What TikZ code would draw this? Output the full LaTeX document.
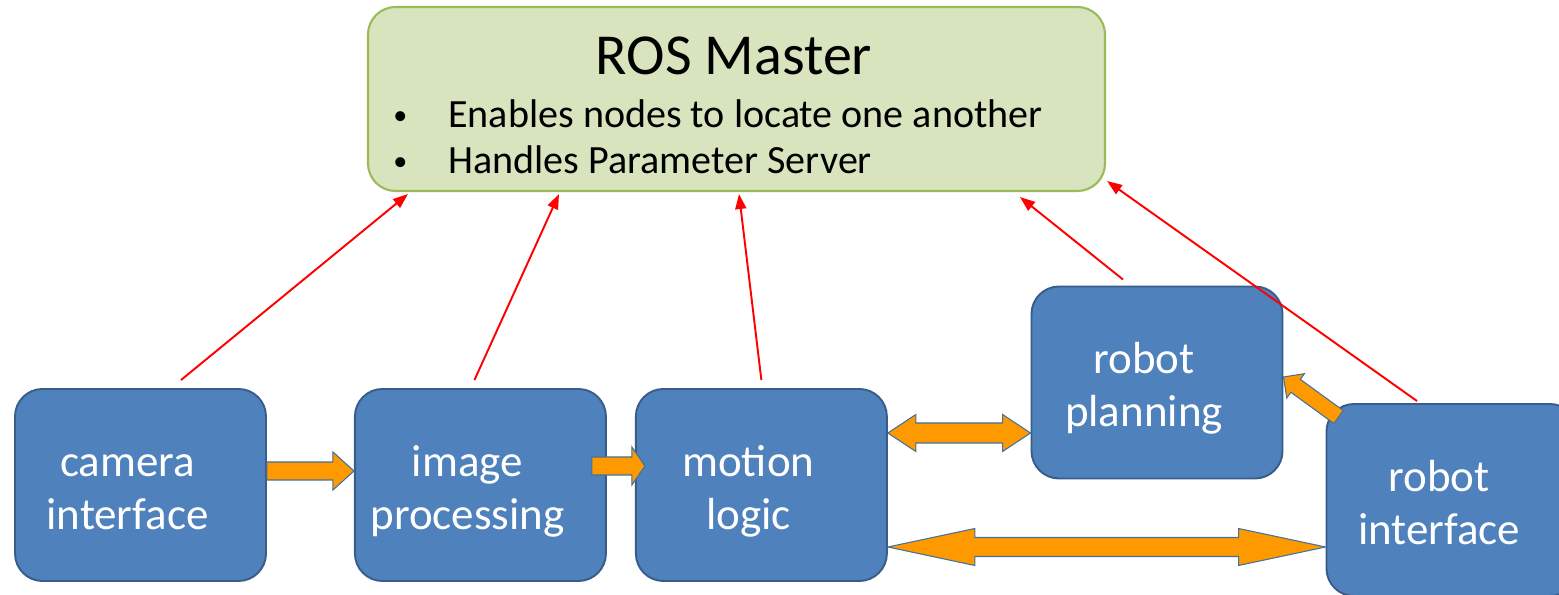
\documentclass[tikz,border=0pt]{standalone}
\usepackage{fontspec}
\setmainfont{Carlito}
\usetikzlibrary{positioning,arrows.meta,calc}
\definecolor{rosBlue}{RGB}{79,129,189}
\definecolor{rosBlueEdge}{RGB}{56,93,138}
\definecolor{rosOrange}{RGB}{255,153,0}
\definecolor{rosOrangeEdge}{RGB}{65,113,156}
\definecolor{rosGreen}{RGB}{215,228,189}
\definecolor{rosGreenEdge}{RGB}{155,187,89}

% two-line label, set a little left of and below the box centre
\newcommand{\lbl}[2]{\raisebox{-0.14cm}[\height][\depth]{\begin{tabular}{@{}c@{}}#1\\#2\end{tabular}}\hspace*{0.52cm}}
\newcommand{\bul}{\makebox[1.1cm][l]{\raisebox{0.09em}{\scalebox{0.7}{\textbullet}}}}
% block arrow: start, tip, shaft half width, head half width, head length
\newcommand{\blockarrow}[5]{%
  \draw[flow] let \p1=(#1), \p2=(#2), \n1={atan2(\y2-\y1,\x2-\x1)} in
    ($(\p1)+(\n1+90:#3)$) -- ($(\p2)+(\n1+180:#5)+(\n1+90:#3)$)
    -- ($(\p2)+(\n1+180:#5)+(\n1+90:#4)$) -- (\p2)
    -- ($(\p2)+(\n1+180:#5)+(\n1-90:#4)$) -- ($(\p2)+(\n1+180:#5)+(\n1-90:#3)$)
    -- ($(\p1)+(\n1-90:#3)$) -- cycle;}
% same, with a head at both ends
\newcommand{\twowayarrow}[5]{%
  \draw[flow] let \p1=(#1), \p2=(#2), \n1={atan2(\y2-\y1,\x2-\x1)} in
    (\p1) -- ($(\p1)+(\n1:#5)+(\n1+90:#4)$) -- ($(\p1)+(\n1:#5)+(\n1+90:#3)$)
    -- ($(\p2)+(\n1+180:#5)+(\n1+90:#3)$) -- ($(\p2)+(\n1+180:#5)+(\n1+90:#4)$) -- (\p2)
    -- ($(\p2)+(\n1+180:#5)+(\n1-90:#4)$) -- ($(\p2)+(\n1+180:#5)+(\n1-90:#3)$)
    -- ($(\p1)+(\n1:#5)+(\n1-90:#3)$) -- ($(\p1)+(\n1:#5)+(\n1-90:#4)$) -- cycle;}

\begin{document}
\begin{tikzpicture}[
  rosnode/.style={rectangle, rounded corners=0.55cm, draw=rosBlueEdge, line width=1.1pt,
    fill=rosBlue, text=white, minimum width=5.02cm, minimum height=3.84cm,
    font=\fontsize{25.6}{30.2}\selectfont},
  master/.style={rectangle, rounded corners=0.55cm, draw=rosGreenEdge, line width=1.2pt,
    fill=rosGreen, minimum width=14.74cm, minimum height=3.68cm},
  bullet/.style={anchor=base west, inner sep=0pt, font=\fontsize{22.8}{26.2}\selectfont},
  link/.style={draw=red, line width=1.1pt, -{Triangle[length=3mm,width=2.2mm]}},
  flow/.style={fill=rosOrange, draw=rosOrangeEdge, line width=0.6pt},
]
\clip (0,0) rectangle (31.18,11.9);
% master
\node[master] (ros) at (14.73,9.92) {};
\node[font=\fontsize{33}{38}\selectfont] (rostitle) at (14.68,10.78) {ROS Master};
\node[bullet] (item1) at (7.86,9.34) {\bul Enables nodes to locate one another};
\node[bullet] (item2) at (7.86,8.42) {\bul Handles Parameter Server};
% nodes
\node[rosnode] (cam) at (2.81,2.2) {\lbl{camera}{interface}};
\node[rosnode, right=1.74cm of cam] (img) {\lbl{image}{processing}};
\node[rosnode, right=0.56cm of img] (mot) {\lbl{motion}{logic}};
\node[rosnode] (plan) at (23.14,4.25) {\lbl{robot}{planning}};
\node[rosnode] (rif) at (29.04,1.9) {\lbl{robot}{interface}};
% registration with the master
\draw[link] ([xshift=0.81cm,yshift=0.16cm]cam.north) -- ([xshift=-6.57cm,yshift=-0.04cm]ros.south);
\draw[link] ([xshift=-0.12cm,yshift=0.16cm]img.north) -- ([xshift=-3.55cm,yshift=-0.04cm]ros.south);
\draw[link] ([yshift=0.16cm]mot.north) -- ([xshift=0.05cm,yshift=-0.04cm]ros.south);
\draw[link] ([xshift=-0.68cm,yshift=0.12cm]plan.north) -- ([xshift=5.67cm,yshift=-0.1cm]ros.south);
\draw[link] ([xshift=-0.7cm,yshift=0.04cm]rif.north) -- ([xshift=0.02cm,yshift=0.22cm]ros.south east);
% data flow
\blockarrow{[yshift=0.28cm]cam.east}{[yshift=0.28cm]img.west}{0.18cm}{0.38cm}{0.42cm}
\blockarrow{[xshift=-0.3cm,yshift=0.38cm]img.east}{[xshift=0.2cm,yshift=0.38cm]mot.west}{0.18cm}{0.38cm}{0.26cm}
\twowayarrow{[yshift=1.04cm]mot.east}{[yshift=-1.01cm]plan.west}{0.2cm}{0.37cm}{0.56cm}
\twowayarrow{[yshift=-1.24cm]mot.east}{[yshift=-0.94cm]rif.west}{0.19cm}{0.37cm}{1.74cm}
\blockarrow{[xshift=0.26cm,yshift=-0.28cm]rif.north west}{[yshift=0.11cm]plan.east}{0.16cm}{0.3cm}{0.3cm}
\end{tikzpicture}
\end{document}
